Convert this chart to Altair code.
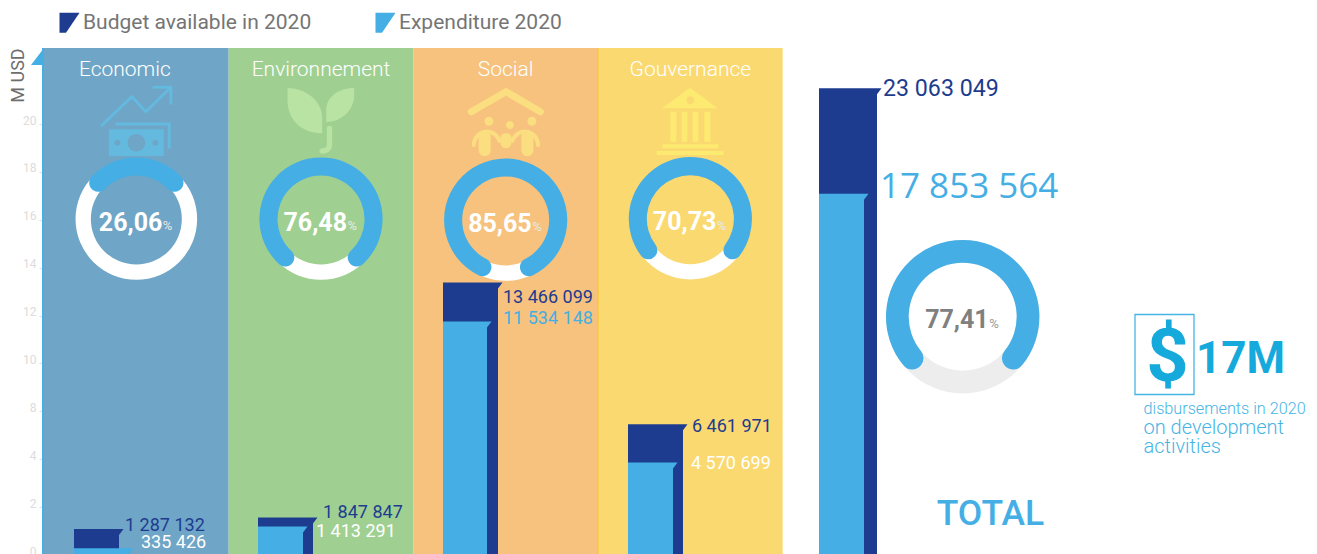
import altair as alt
import pandas as pd

# ---------- data ----------
sectors = ["Economic", "Environnement", "Social", "Gouvernance", "TOTAL"]
budget = [1287132, 1847847, 13466099, 6461971, 23063049]
expenditure = [335426, 1413291, 11534148, 4570699, 17853564]
rates = ["26,06", "76,48", "85,65", "70,73", "77,41"]
rate_values = [26.06, 76.48, 85.65, 70.73, 77.41]
tick_labels = ["20", "18", "16", "14", "12", "10", "8", "4", "2", "0"]
series_names = ["Budget available in 2020", "Expenditure 2020"]

# ---------- layout (plot units) ----------
W, H = 1264, 546
STEP = 184.67
PANEL_COLORS = ["#6fa5c6", "#9fd092", "#f6c27e", "#fbd971"]
ICON_COLORS = ["#63b9de", "#b8e3a3", "#fbde80", "#fdea70"]
DARK, LIGHT = "#1e3c8f", "#45aee4"
NARROW = "Roboto"
xs = alt.Scale(domain=[0, W], range=[0, W])
ys = alt.Scale(domain=[0.05, 27.03], range=[H, 0], clamp=True)
ls = alt.Scale(domain=[0, H], range=[0, H])
color = alt.Scale(domain=series_names, range=[DARK, LIGHT])

panel_left = [i * STEP for i in range(4)]
centers = [c + STEP / 2 for c in panel_left] + [918.7]
ring_y = [211, 211, 212, 210.7, 308.7]
bar_left = [30, 214, 399, 584, 775]
dark_w = [45, 55, 55, 55, 58]
light_w = [55, 45, 44, 45, 45]
label_off = [
    ((6, -2.5), (12, -5)), ((10, -5), (13, 5.5)), ((5, 15.5), (16, -2.5)),
    ((9, 3), (18, 1)), ((6, 0.5), (16, -7)),
]
light_label_color = ["#ffffff", "#ffffff", LIGHT, "#ffffff", LIGHT]

X = lambda f: alt.X(f, scale=xs, axis=None)
Yv = lambda f: alt.Y(f, scale=ys, axis=None)
Yl = lambda f: alt.Y(f, scale=ls, axis=None)


def fmt(v):
    return f"{v:,}".replace(",", " ")


layers = []

# panels
panels = pd.DataFrame({"name": sectors[:4], "x0": panel_left,
                       "x1": [p + STEP for p in panel_left],
                       "fillc": PANEL_COLORS})
layers.append(alt.Chart(panels).mark_rect().encode(
    x=X("x0:Q"), x2="x1:Q", y=alt.value(40), y2=alt.value(H),
    fill=alt.Fill("fillc:N", scale=None)))
layers.append(alt.Chart(panels.iloc[[3]]).mark_rule(color="#fcc22e", strokeWidth=1).encode(
    x=X("x0:Q"), y=alt.value(40), y2=alt.value(H)))

# value axis (equal steps, labels as printed)
layers.append(alt.Chart(pd.DataFrame({"tick": tick_labels})).mark_point(opacity=0).encode(
    y=alt.Y("tick:N", scale=alt.Scale(type="point", domain=tick_labels, range=[116, 547], padding=0),
            axis=alt.Axis(title="M USD", titleFont=NARROW, titleFontSize=18, titleFontWeight="normal",
                          titleColor="#6e6e6e", titleAngle=270, titleX=-25, titleY=67,
                          titleAlign="center", titleBaseline="middle", labelAngle=0,
                          domain=False, grid=False, offset=1, tickSize=4, tickColor="#e0e0e0",
                          tickWidth=1, labelFont=NARROW, labelFontSize=12, labelColor="#dcdcdc",
                          labelPadding=3, labelOffset=-4, labelBaseline="middle"))))
layers.append(alt.Chart(pd.DataFrame({"a": [0]})).mark_rule(color=LIGHT, strokeWidth=2).encode(
    x=alt.value(-1), y=alt.value(40), y2=alt.value(H)))
layers.append(alt.Chart(pd.DataFrame({"a": [0]})).mark_point(
    shape="M0,0 L0,17 L-13,17 Z", size=4, filled=True, opacity=1, color=LIGHT, strokeWidth=0
).encode(x=alt.value(0), y=alt.value(40)))

# sector icons (paths are drawn around the panel centre)
ICONS = [
    [("fill", "M-27.5,9.3 L27.5,9.3 L27.5,36 L-27.5,36 Z "
              "M0,14 A8.7,8.7 0 1 0 0,31.4 A8.7,8.7 0 1 0 0,14 Z "
              "M-19,19.7 A3,3 0 1 0 -19,25.7 A3,3 0 1 0 -19,19.7 Z "
              "M19,19.7 A3,3 0 1 0 19,25.7 A3,3 0 1 0 19,19.7 Z"),
     ("stroke", 3, "M-34.5,5.3 L-4.5,-23.3 L9.5,-8.3 L33.5,-31.7 M17.5,-32.7 L34.5,-32.7 L34.5,-16.7 "
                   "M-19.8,4 L32.8,4 L32.8,27.3")],
    [("fill", "M-33.5,-32 C-16.5,-32 1.2,-20 1.2,-2 L1.2,13.3 C-21.5,13 -33.5,-2 -33.5,-20 Z "
              "M33.2,-32 L33.2,-25 C33.2,-10 20.5,2 5.2,2 L5.2,-10 C5.2,-22 16.5,-32 33.2,-32 Z"),
     ("stroke", 5.3, "M8.5,8.3 L8.5,24 Q8.5,31 1.2,31")],
    [("fill", "M-21.3,1.3 A4.5,4.5 0 1 1 -21.3,1.32 Z M21.7,1.3 A4.5,4.5 0 1 1 21.7,1.32 Z "
              "M0.3,5 A4,4 0 1 1 0.3,5.02 Z "
              "M-27,16 C-27,10 -15,10 -15,16 L-15,30 C-15,38 -27,38 -27,30 Z "
              "M15.7,16 C15.7,10 27.7,10 27.7,16 L27.7,30 C27.7,38 15.7,38 15.7,30 Z "
              "M-5,17 C-5,12 5.6,12 5.6,17 L5.6,23 C5.6,30 -5,30 -5,23 Z"),
     ("stroke", 7, "M-34.3,-8.3 L0.3,-28.3 L34.7,-8.3"),
     ("stroke", 4, "M-32,25 C-31,10 -12,6 -6,21 M32.5,25 C31.5,10 12.5,6 6.5,21")],
    [("fill", "M-0.3,-32.3 L27.3,-11.7 L-28.3,-11.7 Z "
              "M0,-23.7 A4,4 0 1 0 0,-15.7 A4,4 0 1 0 0,-23.7 Z "
              "M-20,-8.3 L-14,-8.3 L-14,21.7 L-20,21.7 Z M-8.7,-8.3 L-3,-8.3 L-3,21.7 L-8.7,21.7 Z "
              "M2.3,-8.3 L8,-8.3 L8,21.7 L2.3,21.7 Z M14,-8.3 L20,-8.3 L20,21.7 L14,21.7 Z "
              "M-27.7,24.3 L28,24.3 L28,28.3 L-27.7,28.3 Z M-33.7,31 L33.3,31 L33.3,35 L-33.7,35 Z")],
]
for i, parts in enumerate(ICONS):
    d = pd.DataFrame({"cx": [centers[i]]})
    for part in parts:
        if part[0] == "fill":
            m = alt.Chart(d).mark_point(shape=part[1], size=4, filled=True, opacity=1,
                                        color=ICON_COLORS[i], strokeWidth=0)
        else:
            m = alt.Chart(d).mark_point(shape=part[2], size=4, filled=False, opacity=1, fill="transparent",
                                        stroke=ICON_COLORS[i], strokeWidth=part[1], strokeCap="round")
        layers.append(m.encode(x=X("cx:Q"), y=alt.value(112)))

# rings
rings = pd.DataFrame({"name": sectors, "cx": centers, "cy": ring_y, "v": rate_values,
                      "a0": [0] * 5, "a1": [6.2832] * 5})
rings["cap"] = [9.4, 9.4, 9.4, 9.4, 0]
rings["h"] = (rings["v"] * 1.8 + rings["cap"]) * 3.14159265 / 180
rings["lo"] = -rings["h"]
sect, tot = rings.iloc[:4], rings.iloc[[4]]
for d, tc, r0, r1, r2, r3, cr in [(sect, "#ffffff", 45.5, 60.8, 43.5, 61.6, 9),
                                  (tot, "#ededed", 54, 76.7, 54, 76.7, 11.3)]:
    layers.append(alt.Chart(d).mark_arc(innerRadius=r0, outerRadius=r1, color=tc).encode(
        x=X("cx:Q"), y=Yl("cy:Q"),
        theta=alt.Theta("a0:Q", scale=None, stack=None), theta2="a1:Q"))
    layers.append(alt.Chart(d).mark_arc(innerRadius=r2, outerRadius=r3, cornerRadius=cr, color=LIGHT).encode(
        x=X("cx:Q"), y=Yl("cy:Q"),
        theta=alt.Theta("lo:Q", scale=None, stack=None), theta2="h:Q"))

# bars, long form: budget first, expenditure in front
rows = []
for i, s in enumerate(sectors):
    rows.append(dict(sector=s, series=series_names[0], val=budget[i] / 1e6, x0=bar_left[i],
                     x1=bar_left[i] + dark_w[i], base=0, label=fmt(budget[i]),
                     lc=DARK, ox=label_off[i][0][0], oy=label_off[i][0][1]))
    rows.append(dict(sector=s, series=series_names[1], val=expenditure[i] / 1e6, x0=bar_left[i],
                     x1=bar_left[i] + light_w[i], base=0, label=fmt(expenditure[i]),
                     lc=light_label_color[i], ox=label_off[i][1][0], oy=label_off[i][1][1]))
bars = pd.DataFrame(rows)
legend = alt.Legend(orient="none", legendX=15, legendY=4, direction="horizontal", title=None,
                    symbolType="M-1,-1 L1,-1 L-0.35,1 L-1,1 Z", symbolSize=400, symbolStrokeWidth=0,
                    symbolOpacity=1, labelFont=NARROW, labelFontSize=21, labelColor="#757575",
                    labelLimit=0, labelOffset=3, columnPadding=63, padding=0)
layers.append(alt.Chart(bars).mark_bar().encode(
    x=X("x0:Q"), x2="x1:Q", y=Yv("val:Q"), y2="base:Q",
    color=alt.Color("series:N", scale=color, legend=legend)))
layers.append(alt.Chart(bars).mark_point(shape="M0,0 L4.5,0 L0,6 Z", size=4, filled=True, opacity=1,
                                         strokeWidth=0).encode(
    x=X("x1:Q"), y=Yv("val:Q"), color=alt.Color("series:N", scale=color, legend=None)))

# value labels
for _, r in bars.iterrows():
    is_total = r["sector"] == "TOTAL"
    is_exp = r["series"] == series_names[1]
    kw = dict(font="Open Sans", fontSize=35) if is_total and is_exp else \
        dict(font=NARROW, fontSize=23.2 if is_total else 18)
    layers.append(alt.Chart(bars[(bars["sector"] == r["sector"]) & (bars["series"] == r["series"])]).mark_text(
        align="left", baseline="middle", dx=float(r["ox"]), dy=float(r["oy"]), color=r["lc"], **kw
    ).encode(x=X("x1:Q"), y=Yv("val:Q"), text="label:N"))

# sector titles
title_dx = [-11.5, 0, 0, 0]
titles = pd.DataFrame({"name": sectors[:4], "cx": [c + d for c, d in zip(centers, title_dx)]})
layers.append(alt.Chart(titles).mark_text(font=NARROW, fontSize=21, fontWeight=300, color="#ffffff", baseline="middle").encode(
    x=X("cx:Q"), y=alt.value(62), text="name:N"))

# rate labels
rl = rings.assign(rate=rates)
rl["tc"] = ["#ffffff"] * 4 + ["#808080"]
rl["pc"] = ["#e8e8e8"] * 4 + ["#9a9a9a"]
layers.append(alt.Chart(rl).mark_text(font=NARROW, fontWeight="bold", fontSize=25, align="right",
                                      baseline="middle", dx=26, dy=3.5).encode(
    x=X("cx:Q"), y=Yl("cy:Q"), text="rate:N", color=alt.Color("tc:N", scale=None)))
layers.append(alt.Chart(rl).mark_text(font=NARROW, fontSize=13, align="left", baseline="middle",
                                      dx=26.5, dy=7).encode(
    x=X("cx:Q"), y=Yl("cy:Q"), text=alt.value("%"), color=alt.Color("pc:N", scale=None)))

# TOTAL caption
caption = pd.DataFrame({"cx": [centers[4]], "t": ["TOTAL"]})
layers.append(alt.Chart(caption).mark_text(font="Roboto", fontWeight=500, fontSize=35.5, color=LIGHT,
                                           align="left", baseline="alphabetic", dx=-26).encode(
    x=X("cx:Q"), y=alt.value(516.5), text="t:N"))

# disbursement call-out
CALL = "#16aadc"
SOFT = "#45b5e5"
one = pd.DataFrame({"a": [0]})
layers.append(alt.Chart(one).mark_rect(fill="transparent", stroke=SOFT, strokeWidth=1.3).encode(
    x=alt.value(1091), x2=alt.value(1150), y=alt.value(306.5), y2=alt.value(386.5)))
for txt, x, y, kw in [
    ("$", 1123.5, 373, dict(fontSize=74, fontWeight="bold", color=CALL, align="center")),
    ("17M", 1152, 365, dict(fontSize=44, fontWeight="bold", color=CALL, align="left")),
    ("disbursements in 2020", 1099.5, 406, dict(fontSize=16.2, fontWeight=300, color=SOFT, align="left")),
    ("on development", 1099.5, 426, dict(fontSize=20, fontWeight=300, color=SOFT, align="left")),
    ("activities", 1099.5, 445, dict(fontSize=20, fontWeight=300, color=SOFT, align="left")),
]:
    layers.append(alt.Chart(pd.DataFrame({"t": [txt]})).mark_text(
        font="Roboto", baseline="alphabetic", **kw
    ).encode(x=alt.value(x), y=alt.value(y), text="t:N"))

chart = alt.layer(*layers).resolve_scale(y="independent").properties(
    width=W, height=H, padding={"left": 36, "top": 0, "right": 0, "bottom": 0},
    autosize=alt.AutoSizeParams(type="none"), background="white"
).configure_view(stroke=None)

chart.save("out.html", embed_options={"renderer": "svg", "actions": False})
